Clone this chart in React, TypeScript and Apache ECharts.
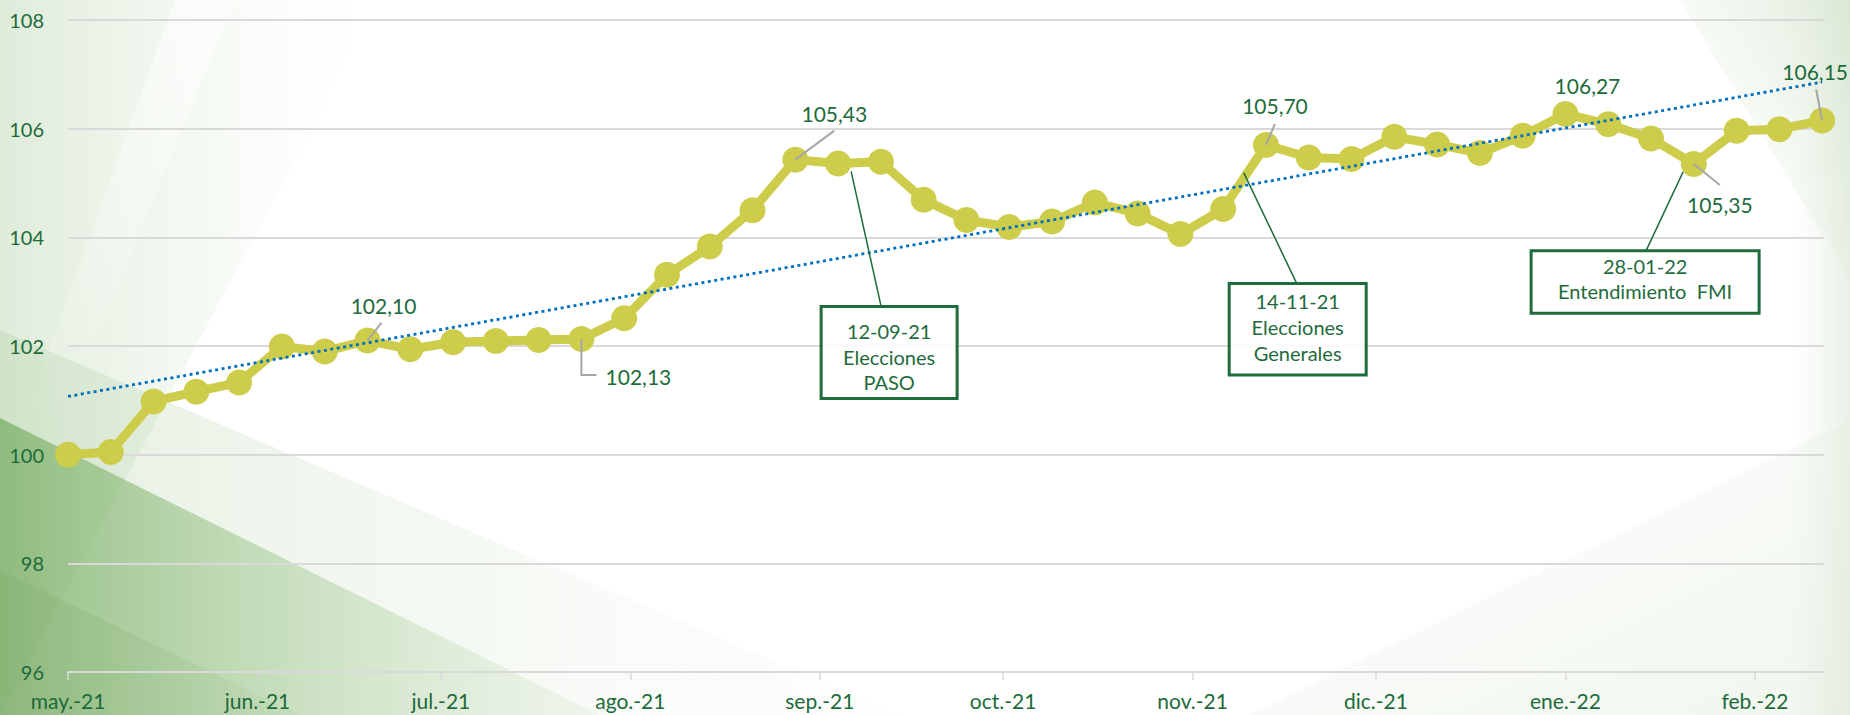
import React, { useEffect, useRef } from "react";
import * as echarts from "echarts";

// ---- data ----
const weekDates: string[] = [
  "2021-05-07", "2021-05-14", "2021-05-21", "2021-05-28",
  "2021-06-04", "2021-06-11", "2021-06-18", "2021-06-25",
  "2021-07-02", "2021-07-09", "2021-07-16", "2021-07-23", "2021-07-30",
  "2021-08-06", "2021-08-13", "2021-08-20", "2021-08-27",
  "2021-09-03", "2021-09-10", "2021-09-17", "2021-09-24",
  "2021-10-01", "2021-10-08", "2021-10-15", "2021-10-22", "2021-10-29",
  "2021-11-05", "2021-11-12", "2021-11-19", "2021-11-26",
  "2021-12-03", "2021-12-10", "2021-12-17", "2021-12-24", "2021-12-31",
  "2022-01-07", "2022-01-14", "2022-01-21", "2022-01-28",
  "2022-02-04", "2022-02-11", "2022-02-18",
];

const indexValues: number[] = [
  100.0, 100.05, 100.98, 101.16,
  101.33, 101.99, 101.9, 102.1,
  101.94, 102.07, 102.09, 102.11, 102.13,
  102.51, 103.31, 103.83, 104.5,
  105.43, 105.36, 105.39, 104.69,
  104.32, 104.19, 104.29, 104.64, 104.44,
  104.06, 104.52, 105.7, 105.47,
  105.44, 105.85, 105.71, 105.55, 105.87,
  106.27, 106.08, 105.82, 105.35,
  105.96, 105.99, 106.15,
];

const tickDates: string[] = [
  "2021-05-07", "2021-06-07", "2021-07-07", "2021-08-07", "2021-09-07",
  "2021-10-07", "2021-11-07", "2021-12-07", "2022-01-07", "2022-02-07",
];
const tickLabels: string[] = [
  "may.-21", "jun.-21", "jul.-21", "ago.-21", "sep.-21",
  "oct.-21", "nov.-21", "dic.-21", "ene.-22", "feb.-22",
];

const yTicks = { min: 96, max: 108, step: 2 };

// indices of points that carry a value label
const labeledPoints: number[] = [7, 12, 17, 28, 35, 38, 41];

// events
const eventDates: string[] = ["12-09-21", "14-11-21", "28-01-22"];
const eventNames: string[][] = [
  ["Elecciones", "PASO"],
  ["Elecciones", "Generales"],
  ["Entendimiento  FMI"],
];
const eventAnchorIdx: number[] = [18, 27, 38];

// ---- layout / style (pixel offsets relative to anchor points) ----
const labelLayout: Record<number, { dx: number; dy: number; leader: number[][] | null }> = {
  7: { dx: 16, dy: -35, leader: [[14, -18], [0, 0]] },
  12: { dx: 57, dy: 38, leader: [[0, 0], [0, 36], [15, 36]] },
  17: { dx: 39, dy: -46, leader: [[39, -29], [0, 0]] },
  28: { dx: 9, dy: -39, leader: [[9, -21], [0, 0]] },
  35: { dx: 22, dy: -28, leader: null },
  38: { dx: 26, dy: 41, leader: [[0, 0], [26, 21]] },
  41: { dx: -7, dy: -49, leader: [[-6, -31], [0, 0]] },
};

const boxLayout = [
  { x: -17, y: 143, w: 136, h: 92, conn: [[43, 143], [13, 8]], cx: 51, ty: 168, lh: 25.3 },
  { x: 6, y: 74.5, w: 137, h: 91.5, conn: [[73.6, 74.5], [20.5, -36.5]], cx: 74.5, ty: 92, lh: 25.9 },
  { x: -162.7, y: 86.7, w: 228, h: 62.5, conn: [[-47.7, 86.7], [-10.7, 7.9]], cx: -48.7, ty: 102, lh: 25.2 },
];

const GREEN_TEXT = "#1D6B3A";
const BOX_GREEN = "#1E6B3C";
const LINE_COLOR = "#CDCD4B";
const TREND_COLOR = "#0070C0";
const GRID_COLOR = "#d9d9d9";
const FONT = "Lato, 'Open Sans', sans-serif";

function dayOffset(d: string, base: string): number {
  const p = d.split("-").map(Number);
  const b = base.split("-").map(Number);
  return Math.round((Date.UTC(p[0], p[1] - 1, p[2]) - Date.UTC(b[0], b[1] - 1, b[2])) / 86400000);
}

export default function App() {
  const ref = useRef<HTMLDivElement>(null);

  useEffect(() => {
    if (!ref.current) return;
    const chart = echarts.init(ref.current, undefined, { renderer: "svg" });

    const base = weekDates[0];
    const xs = weekDates.map((d) => dayOffset(d, base));
    const tickDays = tickDates.map((d) => dayOffset(d, base));
    const mainData = xs.map((x, i) => [x, indexValues[i]]);

    // least squares trend line
    const n = xs.length;
    const mx = xs.reduce((a, b) => a + b, 0) / n;
    const my = indexValues.reduce((a, b) => a + b, 0) / n;
    let sxy = 0;
    let sxx = 0;
    for (let i = 0; i < n; i++) {
      sxy += (xs[i] - mx) * (indexValues[i] - my);
      sxx += (xs[i] - mx) * (xs[i] - mx);
    }
    const slope = sxy / sxx;
    const icpt = my - slope * mx;
    const trendData = [
      [xs[0], icpt + slope * xs[0]],
      [xs[n - 1], icpt + slope * xs[n - 1]],
    ];

    type Ann = { kind: "label"; i: number } | { kind: "box"; e: number; i: number };
    const anns: Ann[] = [
      ...labeledPoints.map((i) => ({ kind: "label" as const, i })),
      ...eventAnchorIdx.map((i, e) => ({ kind: "box" as const, e, i })),
    ];
    const annData = anns.map((a) => [xs[a.i], indexValues[a.i]]);

    const fmt = (v: number) => v.toFixed(2).replace(".", ",");

    const renderItem = (params: any, api: any) => {
      const a = anns[params.dataIndex];
      const p = api.coord([api.value(0), api.value(1)]);
      const children: any[] = [];
      if (a.kind === "label") {
        const L = labelLayout[a.i];
        if (L.leader) {
          children.push({
            type: "polyline",
            shape: { points: L.leader.map((q) => [p[0] + q[0], p[1] + q[1]]) },
            style: { stroke: "#A6A6A6", lineWidth: 2, fill: null },
          });
        }
        children.push({
          type: "text",
          style: {
            text: fmt(indexValues[a.i]),
            x: p[0] + L.dx,
            y: p[1] + L.dy,
            fill: GREEN_TEXT,
            fontSize: 21,
            fontFamily: FONT,
            align: "center",
            verticalAlign: "middle",
          },
        });
      } else {
        const B = boxLayout[a.e];
        children.push({
          type: "polyline",
          shape: { points: B.conn.map((q) => [p[0] + q[0], p[1] + q[1]]) },
          style: { stroke: BOX_GREEN, lineWidth: 1.5, fill: null },
        });
        children.push({
          type: "rect",
          shape: { x: p[0] + B.x, y: p[1] + B.y, width: B.w, height: B.h },
          style: { fill: "rgba(255,255,255,0.88)", stroke: BOX_GREEN, lineWidth: 3 },
        });
        const lines = [eventDates[a.e], ...eventNames[a.e]];
        lines.forEach((t, k) => {
          children.push({
            type: "text",
            style: {
              text: t,
              x: p[0] + B.cx,
              y: p[1] + B.ty + k * B.lh,
              fill: BOX_GREEN,
              fontSize: 20,
              fontFamily: FONT,
              align: "center",
              verticalAlign: "middle",
            },
          });
        });
      }
      return { type: "group", children };
    };

    const lg = (x0: number, y0: number, x1: number, y1: number, stops: [number, string][]) =>
      new echarts.graphic.LinearGradient(x0, y0, x1, y1, stops.map(([offset, color]) => ({ offset, color })));

    const bg = [
      // left tint fading to the right
      {
        type: "polygon",
        shape: { points: [[0, 0], [380, 0], [0, 715]] },
        style: { fill: lg(0, 0, 1, 0, [[0, "rgba(190,216,180,0.5)"], [0.6, "rgba(215,232,208,0.2)"], [1, "rgba(255,255,255,0)"]]) },
      },
      // soft white streak top-left
      {
        type: "polygon",
        shape: { points: [[175, 0], [235, 0], [60, 430], [20, 430]] },
        style: { fill: lg(0, 0, 0, 1, [[0, "rgba(255,255,255,0.55)"], [1, "rgba(255,255,255,0)"]]) },
      },
      // broad light band lower-left
      {
        type: "polygon",
        shape: { points: [[0, 330], [0, 715], [900, 715]] },
        style: { fill: lg(0, 0, 1, 0, [[0, "rgba(180,210,168,0.35)"], [1, "rgba(225,236,220,0.05)"]]) },
      },
      // dark wedge
      {
        type: "polygon",
        shape: { points: [[0, 418], [600, 715], [0, 715]] },
        style: { fill: lg(0, 0, 1, 0, [[0, "rgba(128,178,108,0.8)"], [0.5, "rgba(165,203,150,0.5)"], [1, "rgba(200,224,190,0.2)"]]) },
      },
      // darker inner wedge
      {
        type: "polygon",
        shape: { points: [[0, 570], [300, 715], [0, 715]] },
        style: { fill: lg(0, 0, 1, 0, [[0, "rgba(120,165,100,0.25)"], [1, "rgba(120,165,100,0.05)"]]) },
      },
      // top right wedge
      {
        type: "polygon",
        shape: { points: [[1680, 0], [1850, 0], [1850, 280]] },
        style: { fill: lg(1, 0, 0, 1, [[0, "rgba(195,218,186,0.55)"], [0.7, "rgba(235,243,232,0.15)"], [1, "rgba(255,255,255,0)"]]) },
      },
      // right edge strip
      {
        type: "rect",
        shape: { x: 1790, y: 0, width: 60, height: 715 },
        style: { fill: lg(0, 0, 1, 0, [[0, "rgba(225,236,220,0)"], [1, "rgba(212,228,206,0.5)"]]) },
      },
      // bottom right wedge
      {
        type: "polygon",
        shape: { points: [[1250, 715], [1850, 420], [1850, 715]] },
        style: { fill: lg(0, 0, 1, 1, [[0, "rgba(225,236,220,0.05)"], [1, "rgba(214,229,208,0.35)"]]) },
      },
    ].map((g: any) => ({ ...g, z: -10, silent: true }));

    chart.setOption({
      animation: false,
      backgroundColor: "#ffffff",
      graphic: { elements: bg },
      grid: { left: 68, right: 26, top: 20, bottom: 43, containLabel: false },
      xAxis: {
        type: "value",
        min: 0,
        max: xs[n - 1] + 0.3,
        axisLine: { show: true, lineStyle: { color: GRID_COLOR, width: 2 } },
        axisTick: {
          show: true,
          customValues: tickDays,
          length: 8,
          lineStyle: { color: GRID_COLOR, width: 1.5 },
        },
        axisLabel: {
          customValues: tickDays,
          formatter: (v: number) => {
            const k = tickDays.findIndex((t) => Math.abs(t - v) < 0.5);
            return k >= 0 ? tickLabels[k] : "";
          },
          color: GREEN_TEXT,
          fontSize: 21,
          fontFamily: FONT,
          margin: 18,
        },
        splitLine: { show: false },
      },
      yAxis: {
        type: "value",
        min: yTicks.min,
        max: yTicks.max,
        interval: yTicks.step,
        axisLine: { show: false },
        axisTick: { show: false },
        axisLabel: { color: GREEN_TEXT, fontSize: 20, fontFamily: FONT, margin: 24 },
        splitLine: { lineStyle: { color: GRID_COLOR, width: 2 } },
      },
      series: [
        {
          type: "line",
          data: mainData,
          symbol: "circle",
          symbolSize: 26,
          lineStyle: { color: LINE_COLOR, width: 9 },
          itemStyle: { color: LINE_COLOR },
          z: 2,
        },
        {
          type: "line",
          data: trendData,
          symbol: "none",
          lineStyle: { color: TREND_COLOR, width: 2.8, type: [3, 3.5] },
          z: 3,
        },
        {
          type: "custom",
          data: annData,
          renderItem,
          clip: false,
          z: 4,
        },
      ],
    });

    return () => chart.dispose();
  }, []);

  return (
    <div
      ref={ref}
      style={{ position: "absolute", left: 0, top: 0, width: 1850, height: 715 }}
    />
  );
}
